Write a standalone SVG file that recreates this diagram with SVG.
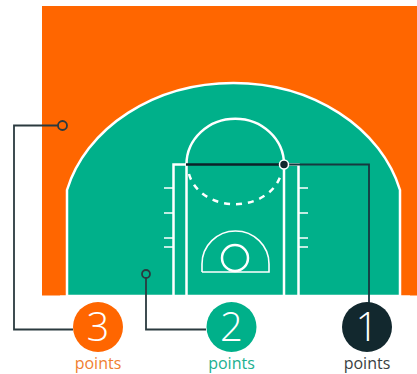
<svg xmlns="http://www.w3.org/2000/svg" width="417" height="374" viewBox="0 0 417 374">
<style>
.w{fill:none;stroke:#fff;stroke-width:2.5}
.t{fill:none;stroke:#fff;stroke-width:1.6}
.c{fill:none;stroke:#2b3a3f;stroke-width:1.8}
.n{font-family:"Open Sans","Noto Sans",sans-serif;font-weight:300;font-size:40px;fill:#fff;text-anchor:middle}
.l{font-family:"Open Sans","Noto Sans",sans-serif;font-size:16px;text-anchor:middle}
</style>
<rect width="417" height="374" fill="#fff"/>
<g id="court">
<rect x="42" y="6" width="375" height="289.500" fill="#ff6600"/>
<path d="M67 296V190A171.800 142 0 0 1 400 190V296Z" fill="#00b08a" stroke="#fff" stroke-width="2.500"/>
<rect x="60" y="295.500" width="350" height="4" fill="#fff"/>
<path class="w" d="M173.500 295V164.500H186.500M186.500 295V164.500A48.500 45.500 0 0 1 284 164.500V295M284 164.500H298.500V295"/>
<path class="w" d="M189 174A47 38 0 0 0 281 174" stroke-dasharray="6 6" stroke-width="2.800"/>
<path class="t" d="M164 188H173M164 213H173M164 238H173M164 247H173M299 188H308M299 213H308M299 238H308M299 247H308" stroke-width="2"/>
<path class="t" d="M202 272V264A33.500 33 0 0 1 269 264V272H202"/>
<circle class="w" cx="235" cy="258" r="13"/>
</g>
<g id="connectors">
<path class="c" d="M73 329.500H14V125.500H58"/>
<circle cx="62.500" cy="125.500" r="4.500" fill="none" stroke="#2b3a3f" stroke-width="1.800"/>
<path class="c" d="M206 329.500H146V278"/>
<circle cx="146" cy="274" r="4" fill="none" stroke="#2b3a3f" stroke-width="1.800"/>
<path class="c" d="M369 305V164.500H284" style="stroke:#17393f"/>
<path d="M186 164.500H284" fill="none" stroke="#0d2228" stroke-width="2.600"/>
<circle cx="284" cy="164.500" r="4.500" fill="#12282e" stroke="#fff" stroke-width="1.500"/>
</g>
<g id="node-3">
<circle cx="98" cy="327" r="25" fill="#ff6600"/>
<text class="n" x="98" y="341">3</text>
<text class="l" x="98" y="369" fill="#f08030">points</text>
</g>
<g id="node-2">
<circle cx="231.500" cy="327" r="25" fill="#00b08a"/>
<text class="n" x="231.500" y="341">2</text>
<text class="l" x="231.500" y="369" fill="#20b090">points</text>
</g>
<g id="node-1">
<circle cx="367" cy="327" r="25" fill="#12282e"/>
<text class="n" x="367" y="341">1</text>
<text class="l" x="367" y="369" fill="#3a3f42">points</text>
</g>
</svg>
